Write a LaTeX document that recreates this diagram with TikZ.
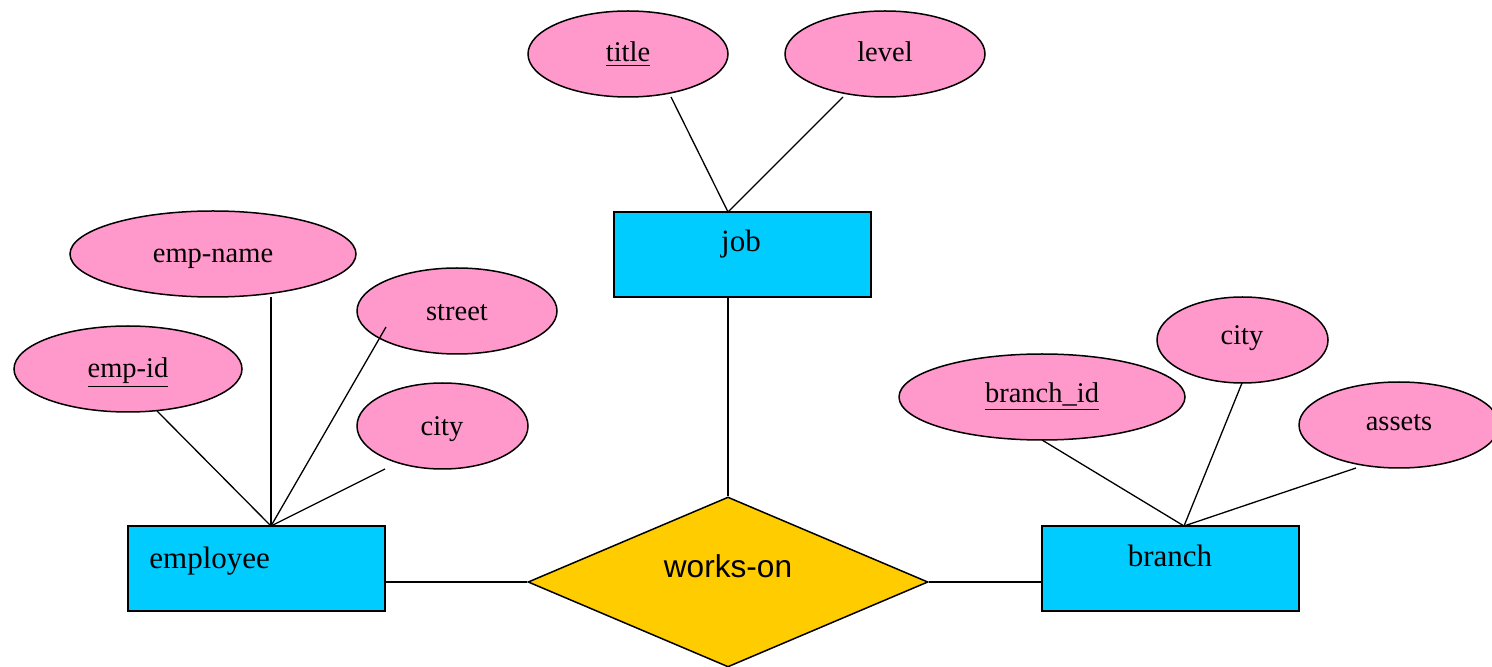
\documentclass[tikz,border=0pt]{standalone}
\usepackage{fontspec}
\setmainfont{Liberation Serif}
\newfontfamily\arialfont{Liberation Sans}
\usetikzlibrary{shapes.geometric}
\definecolor{attrpink}{HTML}{FF99CC}
\definecolor{entblue}{HTML}{00CCFF}
\definecolor{relgold}{HTML}{FFCC00}
\begin{document}
\begin{tikzpicture}[x=0.5pt,y=-0.5pt,
  attr/.style={ellipse, draw=black, fill=attrpink, line width=0.75pt, inner sep=0pt},
  ent/.style={rectangle, draw=black, fill=entblue, line width=0.75pt, inner sep=0pt, minimum width=128.5pt, minimum height=42.5pt},
  rel/.style={diamond, draw=black, fill=relgold, line width=0.75pt, inner sep=0pt, minimum width=200pt, minimum height=85pt},
  atxt/.style={anchor=base, inner sep=0pt, font=\fontsize{14.25pt}{16pt}\selectfont},
  etxt/.style={anchor=base, inner sep=0pt, font=\fontsize{15.5pt}{18pt}\selectfont},
  rtxt/.style={anchor=base, inner sep=0pt, font=\arialfont\fontsize{15.8pt}{18pt}\selectfont},
  link/.style={draw=black, line width=0.65pt}]
\useasboundingbox (0,0) rectangle (1492,667);
\clip (0,0) rectangle (1492,667);

% attributes
\node[attr, minimum width=100pt, minimum height=43pt] (title) at (628,54) {};
\node[atxt] (title-l) at (628,62) {\underline{title}};
\node[attr, minimum width=100pt, minimum height=43pt] (level) at (885,54) {};
\node[atxt] (level-l) at (885,62) {level};
\node[attr, minimum width=143pt, minimum height=43pt] (empname) at (213,254) {};
\node[atxt] (empname-l) at (213,263) {emp-name};
\node[attr, minimum width=100pt, minimum height=43pt] (street) at (457,311) {};
\node[atxt] (street-l) at (457,321) {street};
\node[attr, minimum width=114pt, minimum height=43pt] (empid) at (128,369) {};
\node[atxt] (empid-l) at (128,377.5) {\underline{emp-id}};
\node[attr, minimum width=85.5pt, minimum height=43pt] (cityL) at (442.5,426) {};
\node[atxt] (cityL-l) at (442,435.5) {city};
\node[attr, minimum width=143pt, minimum height=43pt] (branchid) at (1042,397) {};
\node[atxt] (branchid-l) at (1042,403) {\underline{branch\_id}};
\node[attr, minimum width=85.5pt, minimum height=43pt] (cityR) at (1242.5,340) {};
\node[atxt] (cityR-l) at (1242,345) {city};
\node[attr, minimum width=100pt, minimum height=43pt] (assets) at (1399,425) {};
\node[atxt] (assets-l) at (1399,431) {assets};

% entities
\node[ent] (job) at (742.5,254.5) {};
\node[etxt] (job-l) at (741,252) {job};
\node[ent] (employee) at (256.5,568.5) {};
\node[etxt, anchor=base west] (employee-l) at (149,568) {employee};
\node[ent] (branch) at (1170.5,568.5) {};
\node[etxt] (branch-l) at (1170,566) {branch};

% relationship
\node[rel] (works) at (728,582) {};
\node[rtxt] (works-l) at (728,577) {works-on};

% attachment points
\coordinate (job-top) at (728,212);
\coordinate (title-foot) at (671,97);
\coordinate (level-foot) at (843,97);
\coordinate (emp-top) at (271,526);
\coordinate (empid-foot) at (157,411);
\coordinate (empname-foot) at (271,297);
\coordinate (street-foot) at (386,327);
\coordinate (cityL-foot) at (385,469);
\coordinate (branch-top) at (1184,526);
\coordinate (branchid-foot) at (1042,440);
\coordinate (cityR-foot) at (1242,383);
\coordinate (assets-foot) at (1356,468);

% connectors
\draw[link] (title-foot) -- (job-top);
\draw[link] (level-foot) -- (job-top);
\draw[link] (job.south -| works.north) -- (works.north);
\draw[link] (empid-foot) -- (emp-top);
\draw[link] (empname-foot) -- (emp-top);
\draw[link] (street-foot) -- (emp-top);
\draw[link] (cityL-foot) -- (emp-top);
\draw[link] (branchid-foot) -- (branch-top);
\draw[link] (cityR-foot) -- (branch-top);
\draw[link] (assets-foot) -- (branch-top);
\draw[link] (employee.east |- works.west) -- (works.west);
\draw[link] (works.east) -- (branch.west |- works.east);
\end{tikzpicture}
\end{document}
